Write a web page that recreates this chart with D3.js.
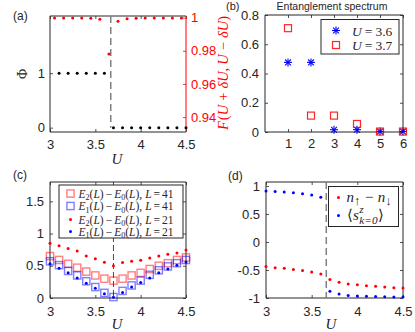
<!DOCTYPE html>
<html><head><meta charset="utf-8">
<script src="https://cdn.jsdelivr.net/npm/d3@7"></script>
<style>body{margin:0;background:#fff}</style>
</head><body>
<script>
// ---------------- data ----------------
const uTicks = [3, 3.5, 4, 4.5];
// (a)
const phiU = [3.1,3.2,3.3,3.4,3.5,3.6,3.7,3.8,3.9,4.0,4.1,4.2,4.3,4.4,4.5];
const phiVals = [1,1,1,1,1,1,0,0,0,0,0,0,0,0,0];
const fidU = [3.05,3.15,3.25,3.35,3.45,3.55,3.65,3.75,3.85,3.95,4.05,4.15,4.25,4.35,4.45];
const fidVals = [0.9998,0.9998,0.9998,0.9998,0.9997,0.9990,0.9780,0.9978,0.9993,0.9997,0.9998,0.9998,0.9998,0.9998,0.9998];
const phiTicks = [0, 1];
const fidTicks = [0.94, 0.96, 0.98, 1];
const transitionA = 3.67;
// (b)
const esIndex = [1,2,3,4,5,6];
const es36 = [0.476,0.476,0.016,0.016,0.004,0.004];
const es37 = [0.71,0.112,0.112,0.055,0.003,0.003];
const esYTicks = [0,0.2,0.4,0.6,0.8];
// (c)
const gapU = [3.0,3.1,3.2,3.3,3.4,3.5,3.6,3.7,3.8,3.9,4.0,4.1,4.2,4.3,4.4,4.5];
const gapE2L41 = [0.65,0.59,0.53,0.47,0.41,0.35,0.30,0.27,0.30,0.35,0.39,0.45,0.50,0.54,0.59,0.63];
const gapE1L41 = [0.57,0.51,0.42,0.35,0.26,0.17,0.08,0.015,0.11,0.195,0.27,0.36,0.43,0.49,0.54,0.59];
const gapE2L21 = [0.85,0.81,0.77,0.73,0.65,0.61,0.555,0.50,0.55,0.57,0.585,0.62,0.65,0.68,0.70,0.745];
const gapE1L21 = [0.53,0.46,0.39,0.31,0.23,0.15,0.066,0.01,0.087,0.17,0.24,0.31,0.39,0.45,0.51,0.56];
const gapYTicks = [0,0.5,1,1.5];
const transitionC = 3.7;
// (d)
const magU = [3.0,3.1,3.2,3.3,3.4,3.5,3.6,3.7,3.8,3.9,4.0,4.1,4.2,4.3,4.4,4.5];
const magN = [-0.44,-0.46,-0.47,-0.49,-0.51,-0.535,-0.57,-0.67,-0.72,-0.75,-0.765,-0.78,-0.79,-0.805,-0.815,-0.82];
const magS = [0.91,0.90,0.89,0.88,0.86,0.84,0.80,-0.88,-0.93,-0.955,-0.965,-0.97,-0.975,-0.978,-0.98,-0.98];
const magYTicks = [-1,-0.5,0,0.5,1];
const transitionD = 3.66;

// ---------------- setup ----------------
const W = 415, H = 332;
const SANS = '"Liberation Sans", Arial, sans-serif';
const SERIF = '"Liberation Serif", "Times New Roman", serif';
const AX = '#262626';
const svg = d3.select('body').append('svg').attr('width', W).attr('height', H)
  .style('display','block');
svg.append('rect').attr('width', W).attr('height', H).attr('fill', '#fff');

const fmt = d => String(d).replace('\u2212','-');

function styleAxis(g, color, showLabels) {
  g.select('.domain').remove();
  g.selectAll('.tick line').attr('stroke', color).attr('stroke-width', 0.8);
  g.selectAll('.tick text').attr('fill', color).attr('font-family', SANS).attr('font-size', 13);
  if (!showLabels) g.selectAll('.tick text').remove();
}

function frame(x0, x1, y0, y1, xs, ys, xticks, yticks, opt = {}) {
  const g = svg.append('g');
  const xfmt = opt.xfmt || fmt, yfmt = opt.yfmt || fmt;
  g.append('g').attr('transform', `translate(0,${y1})`)
    .call(d3.axisBottom(xs).tickValues(xticks).tickSizeInner(-3).tickSizeOuter(0).tickPadding(opt.xpad || 8).tickFormat(xfmt))
    .call(a => styleAxis(a, AX, true));
  g.append('g').attr('transform', `translate(0,${y0})`)
    .call(d3.axisTop(xs).tickValues(xticks).tickSizeInner(-3).tickSizeOuter(0))
    .call(a => styleAxis(a, AX, false));
  g.append('g').attr('transform', `translate(${x0},0)`)
    .call(d3.axisLeft(ys).tickValues(yticks).tickSizeInner(-3).tickSizeOuter(0).tickPadding(opt.ypad || 6).tickFormat(yfmt))
    .call(a => styleAxis(a, AX, true));
  if (!opt.noRight) {
    g.append('g').attr('transform', `translate(${x1},0)`)
      .call(d3.axisRight(ys).tickValues(yticks).tickSizeInner(-3).tickSizeOuter(0))
      .call(a => styleAxis(a, AX, false));
  }
  const ln = (xa, ya, xb, yb, c) => g.append('line').attr('x1', xa).attr('y1', ya).attr('x2', xb).attr('y2', yb)
    .attr('stroke', c).attr('stroke-width', 1);
  ln(x0, y0, x1, y0, AX); ln(x0, y1, x1, y1, AX); ln(x0, y0, x0, y1, AX);
  ln(x1, y0, x1, y1, opt.rightColor || AX);
  return g;
}

function rich(g, x, y, parts, size, color) {
  let cx = x;
  parts.forEach(p => {
    if (p.stack) {
      const fs = size * (p.scale || 0.7);
      const a = g.append('text').attr('x', cx).attr('y', y - size * 0.45).attr('font-family', SERIF)
        .attr('font-style', 'italic').attr('font-size', fs).attr('fill', color).text(p.sup);
      const b = g.append('text').attr('x', cx).attr('y', y + size * 0.32).attr('font-family', SERIF)
        .attr('font-style', p.subItalic ? 'italic' : 'normal').attr('font-size', fs).attr('fill', color).text(p.sub);
      cx += Math.max(a.node().getComputedTextLength(), b.node().getComputedTextLength()) + (p.sp || 0);
    } else {
      const fs = p.small ? size * (p.scale || 0.7) : size;
      const t = g.append('text').attr('x', cx).attr('y', y + (p.dy || 0) * size)
        .attr('font-family', p.sans ? SANS : SERIF).attr('font-style', p.i ? 'italic' : 'normal')
        .attr('font-size', fs).attr('fill', color).text(p.t);
      cx += t.node().getComputedTextLength() + (p.sp || 0);
    }
  });
  return cx - x;
}

function dots(g, xs, ys, X, Y, color, r) {
  g.selectAll(null).data(X.map((u, i) => [u, Y[i]])).enter().append('circle')
    .attr('cx', d => xs(d[0])).attr('cy', d => ys(d[1])).attr('r', r).attr('fill', color);
}

function panelLabel(t, x, y, fs) {
  svg.append('text').attr('x', x).attr('y', y).attr('font-family', SANS).attr('font-size', fs || 12)
    .attr('fill', AX).text(t);
}
function uLabel(x, y) {
  svg.append('text').attr('x', x).attr('y', y).attr('text-anchor', 'middle').attr('font-family', SERIF)
    .attr('font-style', 'italic').attr('font-size', 15).attr('fill', AX).text('U');
}

// ---------------- (a) ----------------
{
  const x0 = 50, x1 = 186, y0 = 16, y1 = 132;
  const xs = d3.scaleLinear().domain([3, 4.5]).range([x0, x1]);
  const ysL = d3.scaleLinear().domain([-0.08, 2.05]).range([y1, y0]);
  const ysR = d3.scaleLinear().domain([0.931, 1.001]).range([y1, y0]);
  const g = frame(x0, x1, y0, y1, xs, ysL, uTicks, phiTicks, { noRight: true, rightColor: '#ff0000', ypad: 5 });
  g.append('g').attr('transform', `translate(${x1},0)`)
    .call(d3.axisRight(ysR).tickValues(fidTicks).tickSizeInner(-3).tickSizeOuter(0).tickPadding(5).tickFormat(fmt))
    .call(a => styleAxis(a, '#ff0000', true));
  g.append('line').attr('x1', xs(transitionA)).attr('x2', xs(transitionA))
    .attr('y1', y0).attr('y2', ysL(0)).attr('stroke', '#808080').attr('stroke-width', 1.5)
    .attr('stroke-dasharray', '7,4');
  dots(g, xs, ysL, phiU, phiVals, '#000', 1.5);
  dots(g, xs, ysR, fidU, fidVals, '#ff0000', 1.5);
  svg.append('text').attr('transform', `translate(27,74) rotate(-90)`).attr('text-anchor', 'middle')
    .attr('font-family', SERIF).attr('font-size', 14).attr('fill', AX).text('\u03A6');
  const gl = svg.append('g');
  const inner = gl.append('g');
  const w = rich(inner, 0, 0, [
    { t: 'F', i: true, sp: 1 }, { t: '(' }, { t: 'U', i: true, sp: 4 }, { t: '+', sp: 4 }, { t: '\u03B4', i: true },
    { t: 'U', i: true }, { t: ',', sp: 3 }, { t: 'U', i: true, sp: 4 }, { t: '\u2212', sp: 4 }, { t: '\u03B4', i: true },
    { t: 'U', i: true }, { t: ')' }
  ], 14.5, '#ff0000');
  gl.attr('transform', `translate(228,${73 + w / 2}) rotate(-90)`);
  panelLabel('(a)', 13, 20);
  uLabel(117, 164);
}

// ---------------- (b) ----------------
{
  const x0 = 265, x1 = 403, y0 = 15, y1 = 132;
  const xs = d3.scaleLinear().domain([0, 6]).range([x0, x1]);
  const ys = d3.scaleLinear().domain([0, 0.8]).range([y1, y0]);
  const g = frame(x0, x1, y0, y1, xs, ys, esIndex, esYTicks, { xpad: 7, ypad: 6 });
  const star = (sel, cx, cy, s) => {
    const gg = sel.append('g').attr('transform', `translate(${cx},${cy})`).attr('stroke', '#0000ff').attr('stroke-width', 1.1);
    gg.append('line').attr('x1', -s).attr('x2', s).attr('y1', 0).attr('y2', 0);
    gg.append('line').attr('x1', 0).attr('x2', 0).attr('y1', -s).attr('y2', s);
    const d = s * 0.72;
    gg.append('line').attr('x1', -d).attr('x2', d).attr('y1', -d).attr('y2', d);
    gg.append('line').attr('x1', -d).attr('x2', d).attr('y1', d).attr('y2', -d);
  };
  const sq = (sel, cx, cy, s, c, op) => sel.append('rect').attr('x', cx - s / 2).attr('y', cy - s / 2)
    .attr('width', s).attr('height', s).attr('fill', 'none').attr('stroke', c).attr('stroke-width', 1.2)
    .attr('stroke-opacity', op == null ? 1 : op);
  esIndex.forEach((k, i) => star(g, xs(k), ys(es36[i]), 4));
  esIndex.forEach((k, i) => sq(g, xs(k), ys(es37[i]), 7, '#ff0000', 0.85));
  g.append('rect').attr('x', 321).attr('y', 19.5).attr('width', 78).attr('height', 34.5)
    .attr('fill', '#fff').attr('stroke', AX).attr('stroke-width', 1);
  star(g, 336, 30.5, 4);
  sq(g, 336, 45, 7, '#ff0000', 0.85);
  rich(g, 352, 35.5, [{ t: 'U', i: true, sp: 3 }, { t: '=', sp: 3 }, { t: '3.6' }], 13.5, AX);
  rich(g, 352, 50, [{ t: 'U', i: true, sp: 3 }, { t: '=', sp: 3 }, { t: '3.7' }], 13.5, AX);
  svg.append('text').attr('x', 332).attr('y', 10).attr('text-anchor', 'middle').attr('font-family', SANS)
    .attr('font-size', 10.5).attr('fill', AX).text('Entanglement spectrum');
  panelLabel('(b)', 226, 9.5, 11);
}

// ---------------- (c) ----------------
{
  const x0 = 50, x1 = 186, y0 = 182, y1 = 298;
  const xs = d3.scaleLinear().domain([3, 4.5]).range([x0, x1]);
  const ys = d3.scaleLinear().domain([0, 1.8]).range([y1, y0]);
  const g = frame(x0, x1, y0, y1, xs, ys, uTicks, gapYTicks, { xpad: 9, ypad: 6 });
  g.append('line').attr('x1', xs(transitionC)).attr('x2', xs(transitionC)).attr('y1', y0).attr('y2', y1)
    .attr('stroke', '#333').attr('stroke-width', 0.9).attr('stroke-dasharray', '6,3');
  const sqs = (X, Y, c) => g.selectAll(null).data(X.map((u, i) => [u, Y[i]])).enter().append('rect')
    .attr('x', d => xs(d[0]) - 3.6).attr('y', d => ys(d[1]) - 3.6).attr('width', 7.2).attr('height', 7.2)
    .attr('fill', 'none').attr('stroke', c).attr('stroke-width', 1.4).attr('stroke-opacity', 0.5);
  sqs(gapU, gapE2L41, '#ff0000');
  sqs(gapU, gapE1L41, '#0000ff');
  dots(g, xs, ys, gapU, gapE2L21, '#ff0000', 1.5);
  dots(g, xs, ys, gapU, gapE1L21, '#0000ff', 1.5);
  const lg = svg.append('g');
  lg.append('rect').attr('x', 59).attr('y', 185).attr('width', 124).attr('height', 53)
    .attr('fill', '#fff').attr('stroke', AX).attr('stroke-width', 1);
  const rowsY = [193.5, 206, 219.5, 231.5];
  const lsq = (cy, c) => lg.append('rect').attr('x', 70.5 - 3.6).attr('y', cy - 3.6).attr('width', 7.2).attr('height', 7.2)
    .attr('fill', 'none').attr('stroke', c).attr('stroke-width', 1.4).attr('stroke-opacity', 0.5);
  lsq(rowsY[0], '#ff0000'); lsq(rowsY[1], '#0000ff');
  lg.append('circle').attr('cx', 70.5).attr('cy', rowsY[2]).attr('r', 1.5).attr('fill', '#ff0000');
  lg.append('circle').attr('cx', 70.5).attr('cy', rowsY[3]).attr('r', 1.5).attr('fill', '#0000ff');
  const legTxt = (y, a, L) => rich(lg, 78.5, y, [
    { t: 'E', i: true }, { t: a, small: true, dy: 0.22 }, { t: '(' }, { t: 'L', i: true }, { t: ')', sp: 2 },
    { t: '\u2212', sp: 2 }, { t: 'E', i: true }, { t: '0', small: true, dy: 0.22 }, { t: '(' }, { t: 'L', i: true },
    { t: '),', sp: 3 }, { t: 'L', i: true, sp: 2 }, { t: '=', sp: 2 }, { t: L }
  ], 11.5, AX);
  legTxt(rowsY[0] + 4, '2', '41');
  legTxt(rowsY[1] + 4, '1', '41');
  legTxt(rowsY[2] + 4, '2', '21');
  legTxt(rowsY[3] + 4, '1', '21');
  panelLabel('(c)', 13, 179);
  uLabel(117, 329);
}

// ---------------- (d) ----------------
{
  const x0 = 266, x1 = 403, y0 = 182, y1 = 298;
  const xs = d3.scaleLinear().domain([3, 4.5]).range([x0, x1]);
  const ys = d3.scaleLinear().domain([-1, 1.07]).range([y1, y0]);
  const g = frame(x0, x1, y0, y1, xs, ys, uTicks, magYTicks, { xpad: 9, ypad: 6 });
  g.append('line').attr('x1', xs(transitionD)).attr('x2', xs(transitionD)).attr('y1', y0).attr('y2', y1)
    .attr('stroke', '#808080').attr('stroke-width', 1.5).attr('stroke-dasharray', '7,4');
  dots(g, xs, ys, magU, magN, '#ff0000', 1.5);
  dots(g, xs, ys, magU, magS, '#0000ff', 1.5);
  const lg = svg.append('g');
  lg.append('rect').attr('x', 328.5).attr('y', 186.5).attr('width', 70).attr('height', 40)
    .attr('fill', '#fff').attr('stroke', AX).attr('stroke-width', 1);
  lg.append('circle').attr('cx', 338.5).attr('cy', 197.5).attr('r', 1.5).attr('fill', '#ff0000');
  lg.append('circle').attr('cx', 338.5).attr('cy', 215.5).attr('r', 1.5).attr('fill', '#0000ff');
  rich(lg, 346.5, 201.5, [
    { t: 'n', i: true }, { t: '\u2191', small: true, scale: 0.85, dy: 0.25, sp: 4.5 }, { t: '\u2212', sp: 4.5 },
    { t: 'n', i: true }, { t: '\u2193', small: true, scale: 0.85, dy: 0.25 }
  ], 15, AX);
  rich(lg, 346.5, 219.5, [
    { t: '\u27E8', sp: 0.5 }, { t: 's', i: true, sp: 0.5 }, { stack: true, sup: 'z', sub: 'k=0', subItalic: true, scale: 0.75, sp: 0.5 }, { t: '\u27E9' }
  ], 15, AX);
  panelLabel('(d)', 228, 180);
  uLabel(331, 329);
}
</script>
</body></html>
